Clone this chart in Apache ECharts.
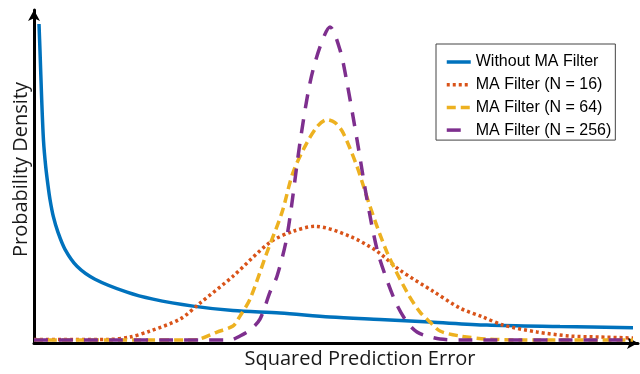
<!DOCTYPE html>
<html>
<head>
<meta charset="utf-8">
<script src="https://cdn.jsdelivr.net/npm/echarts@6/dist/echarts.min.js"></script>
<style>html,body{margin:0;padding:0;background:#fff}#c{width:640px;height:374px}</style>
</head>
<body>
<div id="c"></div>
<script>
// Series names
const seriesNames = ['Without MA Filter', 'MA Filter (N = 16)', 'MA Filter (N = 64)', 'MA Filter (N = 256)'];
const xAxisName = 'Squared Prediction Error';
const yAxisName = 'Probability Density';

// [error, density] pairs (arbitrary units)
const withoutMA = [[5,317],[6,290],[7.7,241],[9.5,200],[11.7,174],[14,155],[16,141],[19.3,124],[24,108],[31,91],[43,74],[61,61],[93,48],[119,41],[159,34],[199,29.5],[246,27],[296,23],[346,20.5],[396,18],[453,15],[526,13.5],[599,12.3]];
const maN16 = [[0,0.5],[40,0.5],[73,0.5],[96,3],[116,9],[146,21],[166,37],[199,64],[236,98],[259,109],[281,114],[316,104],[343,89],[366,70],[399,49],[426,32],[449,23],[469,15],[503,8],[536,4],[566,3],[599,2]];
const maN64 = [[0,0],[156,0],[166,1],[183,8],[199,14],[206,24],[216,41],[233,88],[248,128],[259,168],[273,198],[284,215],[293,221],[301,218],[309,208],[323,174],[336,134],[353,88],[373,48],[386,28],[396,18],[406,9],[426,4],[453,1],[486,0],[599,0]];
const maN256 = [[0,0],[196,0],[206,4],[216,10],[226,21],[236,48],[243,64],[253,104],[266,198],[276,258],[286,294],[296,314],[306,291],[313,258],[323,201],[333,141],[343,91],[353,60],[363,35],[373,18],[383,8],[393,4],[406,1],[426,0],[599,0]];

const colors = ['#0072BD', '#D95319', '#EDB120', '#7E2F8E'];
const dashes = ['solid', [3, 3], [9, 5], [14, 11]];
const widths = [3.5, 3.5, 3.5, 3.5];
const dataSets = [withoutMA, maN16, maN64, maN256];

const chart = echarts.init(document.getElementById('c'), null, {renderer: 'canvas'});
chart.setOption({
  animation: false,
  backgroundColor: '#fff',
  grid: {left: 34, right: 2, top: 10, bottom: 30, containLabel: false},
  xAxis: {
    type: 'value', min: 0, max: 604,
    name: xAxisName, nameLocation: 'middle', nameGap: 6,
    nameTextStyle: {fontFamily: 'Open Sans', fontSize: 20, color: '#1a1a1a', padding: [0, 0, 0, 48]},
    axisLine: {onZero: false, symbol: ['none', 'arrow'], symbolSize: [9, 11], lineStyle: {color: '#000', width: 3}},
    axisTick: {show: false}, axisLabel: {show: false}, splitLine: {show: false}
  },
  yAxis: {
    type: 'value', min: -3, max: 331,
    name: yAxisName, nameLocation: 'middle', nameGap: 3, nameRotate: 90,
    nameTextStyle: {fontFamily: 'Open Sans', fontSize: 20, color: '#1a1a1a', padding: [0, 0, 0, 14]},
    axisLine: {onZero: false, symbol: ['none', 'arrow'], symbolSize: [9, 11], lineStyle: {color: '#000', width: 3}},
    axisTick: {show: false}, axisLabel: {show: false}, splitLine: {show: false}
  },
  legend: {
    orient: 'vertical', left: 436, top: 44,
    padding: [10, 4, 2, 9],
    itemWidth: 24, itemHeight: 16, itemGap: 6.7,
    borderColor: '#444', borderWidth: 1, backgroundColor: '#fff',
    itemStyle: {opacity: 0},
    lineStyle: {width: 3.5},
    textStyle: {fontFamily: 'Liberation Sans', fontSize: 16, color: '#000', lineHeight: 16},
    data: seriesNames
  },
  series: seriesNames.map((n, i) => ({
    name: n, type: 'line', data: dataSets[i],
    showSymbol: false, symbol: 'none', smooth: 0.3,
    color: colors[i],
    lineStyle: {color: colors[i], width: widths[i], type: dashes[i], cap: 'butt'},
    z: 2 + i
  }))
});
</script>
</body>
</html>
